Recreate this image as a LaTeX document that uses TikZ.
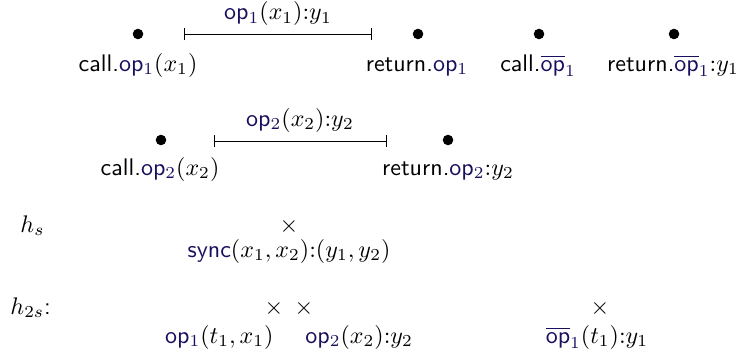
\documentclass[tikz,border=0pt]{standalone}
\usepackage{fontspec}
\usetikzlibrary{arrows.meta}
\definecolor{opcol}{RGB}{25,15,95}
\newcommand{\opsub}[1]{\textcolor{opcol}{\textsf{op}$_{#1}$}}
\newcommand{\opbarsub}[1]{\textcolor{opcol}{$\overline{\mbox{\textsf{op}}}_{#1}$}}
\begin{document}
\begin{tikzpicture}[x=0.41667pt,y=-0.41667pt,
  dotn/.style={circle,fill,inner sep=0pt,minimum size=4.4pt},
  lbl/.style={anchor=base,inner sep=0pt,font=\sffamily},
  crossn/.style={inner sep=0pt},
  ival/.style={{Bar[width=5.4pt]}-{Bar[width=5.4pt]},line width=0.4pt}]
\useasboundingbox (0,0) rectangle (736,354);
% row 1
\node[dotn] (c1) at (138,34) {};
\node[dotn] (r1) at (418,34) {};
\node[dotn] (cb1) at (539,34) {};
\node[dotn] (rb1) at (674,34) {};
\node[lbl] (lc1) at (138,71) {call.\opsub{1}$(x_1)$};
\node[lbl] (lr1) at (417,71) {return.\opsub{1}};
\node[lbl] (lcb1) at (538,71) {call.\opbarsub{1}};
\node[lbl] (lrb1) at (673,71) {return.\opbarsub{1}${:}y_1$};
\coordinate (i1a) at (184,34);
\coordinate (i1b) at (372,34);
\draw[ival] (i1a) -- (i1b);
\node[lbl] (li1) at (278,20) {\opsub{1}$(x_1){:}y_1$};
% row 2
\node[dotn] (c2) at (161,140) {};
\node[dotn] (r2) at (448,140) {};
\node[lbl] (lc2) at (160,175) {call.\opsub{2}$(x_2)$};
\node[lbl] (lr2) at (448,175) {return.\opsub{2}${:}y_2$};
\coordinate (i2a) at (214,141);
\coordinate (i2b) at (387,141);
\draw[ival] (i2a) -- (i2b);
\node[lbl] (li2) at (300,126) {\opsub{2}$(x_2){:}y_2$};
% h_s
\node[lbl,anchor=base west] (hs) at (20,232) {$h_s$};
\node[crossn] (xs) at (289,226) {$\times$};
\node[lbl] (ls) at (289,257) {\textcolor{opcol}{\textsf{sync}}$(x_1,x_2){:}(y_1,y_2)$};
% h_2s
\node[lbl,anchor=base west] (h2s) at (10,314) {$h_{2s}$:};
\node[crossn] (xa) at (274,308) {$\times$};
\node[crossn] (xb) at (304,308) {$\times$};
\node[crossn] (xc) at (600,308) {$\times$};
\node[lbl,anchor=base east] (la) at (274,343) {\opsub{1}$(t_1,x_1)$};
\node[lbl,anchor=base west] (lb) at (305,343) {\opsub{2}$(x_2){:}y_2$};
\node[lbl] (lc) at (597,343) {\opbarsub{1}$(t_1){:}y_1$};
\end{tikzpicture}
\end{document}
